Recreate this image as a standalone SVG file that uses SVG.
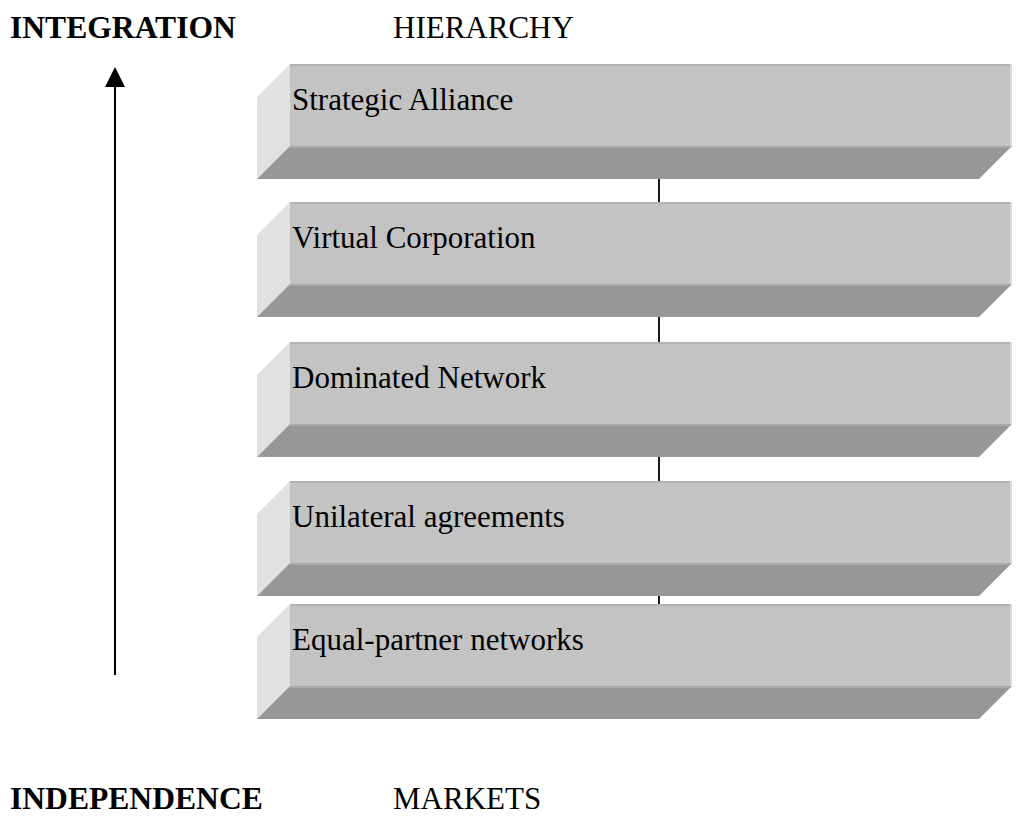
<svg xmlns="http://www.w3.org/2000/svg" width="1016" height="817" viewBox="0 0 1016 817">
<defs>
<style>
.front{fill:#c3c3c3}
.topline{stroke:#b2b2b2;stroke-width:2}
.side{fill:#e1e1e1}
.slab{fill:#979797}
.slabline{stroke:#a9a9a9;stroke-width:2}
.redge{stroke:#d9d9d9;stroke-width:2}
.lbl{font-family:"Liberation Serif","Times New Roman",serif;font-size:31px;fill:#000}
.hdr{font-family:"Liberation Serif","Times New Roman",serif;font-size:31px;fill:#000}
.bold{font-weight:bold;font-size:31.6px}
.conn{stroke:#000;stroke-width:1.8}
</style>
</defs>
<rect width="1016" height="817" fill="#fff"/>
<g id="connectors">
<line class="conn" x1="659" y1="179" x2="659" y2="205"/>
<line class="conn" x1="659" y1="317" x2="659" y2="345"/>
<line class="conn" x1="659" y1="457" x2="659" y2="485"/>
<line class="conn" x1="659" y1="596" x2="659" y2="605"/>
</g>
<g id="axis">
<line x1="115" y1="675" x2="115" y2="84" stroke="#000" stroke-width="2"/>
<polygon points="115,67 105,87 125,87" fill="#000"/>
</g>
<g id="headers">
<text class="hdr bold" x="10" y="38">INTEGRATION</text>
<text class="hdr" x="393" y="38">HIERARCHY</text>
<text class="hdr bold" x="10" y="809">INDEPENDENCE</text>
<text class="hdr" x="393" y="809">MARKETS</text>
</g>
<g id="bar1" transform="translate(0,64)">
<polygon class="side" points="290,0 257,33 257,115 290,82"/>
<rect class="front" x="290" y="0" width="722" height="82"/>
<line class="topline" x1="290" y1="1" x2="1012" y2="1"/>
<line class="redge" x1="1011" y1="0" x2="1011" y2="82"/>
<polygon class="slab" points="290,82 1012,82 979,115 257,115"/>
<line class="slabline" x1="290" y1="83" x2="1011" y2="83"/>
<text class="lbl" x="292" y="46">Strategic Alliance</text>
</g>
<g id="bar2" transform="translate(0,202)">
<polygon class="side" points="290,0 257,33 257,115 290,82"/>
<rect class="front" x="290" y="0" width="722" height="82"/>
<line class="topline" x1="290" y1="1" x2="1012" y2="1"/>
<line class="redge" x1="1011" y1="0" x2="1011" y2="82"/>
<polygon class="slab" points="290,82 1012,82 979,115 257,115"/>
<line class="slabline" x1="290" y1="83" x2="1011" y2="83"/>
<text class="lbl" x="292" y="46">Virtual Corporation</text>
</g>
<g id="bar3" transform="translate(0,342)">
<polygon class="side" points="290,0 257,33 257,115 290,82"/>
<rect class="front" x="290" y="0" width="722" height="82"/>
<line class="topline" x1="290" y1="1" x2="1012" y2="1"/>
<line class="redge" x1="1011" y1="0" x2="1011" y2="82"/>
<polygon class="slab" points="290,82 1012,82 979,115 257,115"/>
<line class="slabline" x1="290" y1="83" x2="1011" y2="83"/>
<text class="lbl" x="292" y="46">Dominated Network</text>
</g>
<g id="bar4" transform="translate(0,481)">
<polygon class="side" points="290,0 257,33 257,115 290,82"/>
<rect class="front" x="290" y="0" width="722" height="82"/>
<line class="topline" x1="290" y1="1" x2="1012" y2="1"/>
<line class="redge" x1="1011" y1="0" x2="1011" y2="82"/>
<polygon class="slab" points="290,82 1012,82 979,115 257,115"/>
<line class="slabline" x1="290" y1="83" x2="1011" y2="83"/>
<text class="lbl" x="292" y="46">Unilateral agreements</text>
</g>
<g id="bar5" transform="translate(0,604)">
<polygon class="side" points="290,0 257,33 257,115 290,82"/>
<rect class="front" x="290" y="0" width="722" height="82"/>
<line class="topline" x1="290" y1="1" x2="1012" y2="1"/>
<line class="redge" x1="1011" y1="0" x2="1011" y2="82"/>
<polygon class="slab" points="290,82 1012,82 979,115 257,115"/>
<line class="slabline" x1="290" y1="83" x2="1011" y2="83"/>
<text class="lbl" x="292" y="46">Equal-partner networks</text>
</g>
</svg>
